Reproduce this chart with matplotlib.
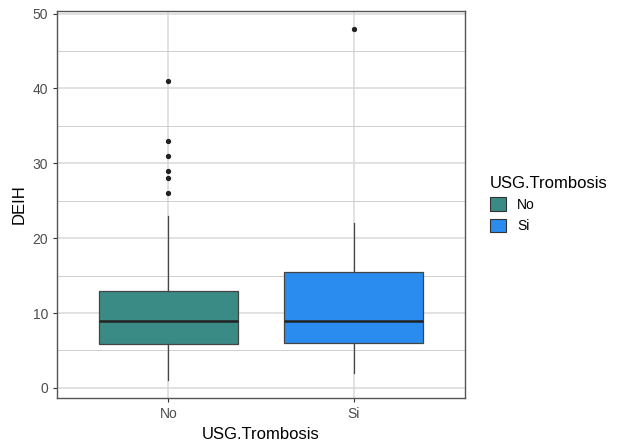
import matplotlib.pyplot as plt
from matplotlib.patches import Patch

plt.rcParams['font.family'] = ['Liberation Sans', 'DejaVu Sans']

groups = ['No', 'Si']
colors = ['#3A8A86', '#2B8CF0']
q1 = [5.8, 6.0]
med = [9.0, 9.0]
q3 = [13.0, 15.5]
wlo = [1.0, 2.0]
whi = [23.0, 22.0]
outliers = [[26, 28, 29, 31, 33, 41], [48]]

stats = []
for i in range(len(groups)):
    stats.append({'label': groups[i], 'q1': q1[i], 'med': med[i], 'q3': q3[i],
                  'whislo': wlo[i], 'whishi': whi[i], 'fliers': outliers[i]})

fig = plt.figure(figsize=(6.18, 4.44), dpi=100)
ax = fig.add_axes([57/618, 46/444, 408/618, 387/444])

bp = ax.bxp(stats, positions=[1, 2], widths=0.75, patch_artist=True, showcaps=False,
            boxprops=dict(edgecolor='#444444', linewidth=0.9),
            medianprops=dict(color='#222222', linewidth=1.8),
            whiskerprops=dict(color='#444444', linewidth=0.9),
            flierprops=dict(marker='o', markerfacecolor='#222222', markeredgecolor='#222222',
                            markersize=2.8, linestyle='none'))
for patch, c in zip(bp['boxes'], colors):
    patch.set_facecolor(c)

ax.set_xlim(0.4, 2.6)
ax.set_ylim(-1.35, 50.35)
ax.set_xticks([1, 2])
ax.set_xticklabels(groups)
ax.set_yticks([0, 10, 20, 30, 40, 50])
ax.set_yticks([5, 15, 25, 35, 45], minor=True)
ax.grid(True, which='major', color='#D9D9D9', linewidth=1.1)
ax.grid(True, which='minor', axis='y', color='#C8C8C8', linewidth=0.6)
ax.set_axisbelow(True)
ax.tick_params(axis='both', which='major', colors='#333333', labelcolor='#4D4D4D',
               labelsize=10, length=3, width=0.8)
ax.tick_params(axis='y', which='minor', length=0)
for s in ax.spines.values():
    s.set_color('#555555')
    s.set_linewidth(1.0)

ax.set_xlabel('USG.Trombosis', fontsize=12, labelpad=4)
ax.set_ylabel('DEIH', fontsize=12, labelpad=4)

handles = [Patch(facecolor=c, edgecolor='#333333', linewidth=0.8) for c in colors]
leg = fig.legend(handles, groups, title='USG.Trombosis', loc='upper left',
                 bbox_to_anchor=(477/618, 1 - 163/444), frameon=False,
                 fontsize=10, title_fontsize=12, handlelength=1.2, handleheight=1.1,
                 alignment='left')

fig.savefig('out.png', dpi=100)
